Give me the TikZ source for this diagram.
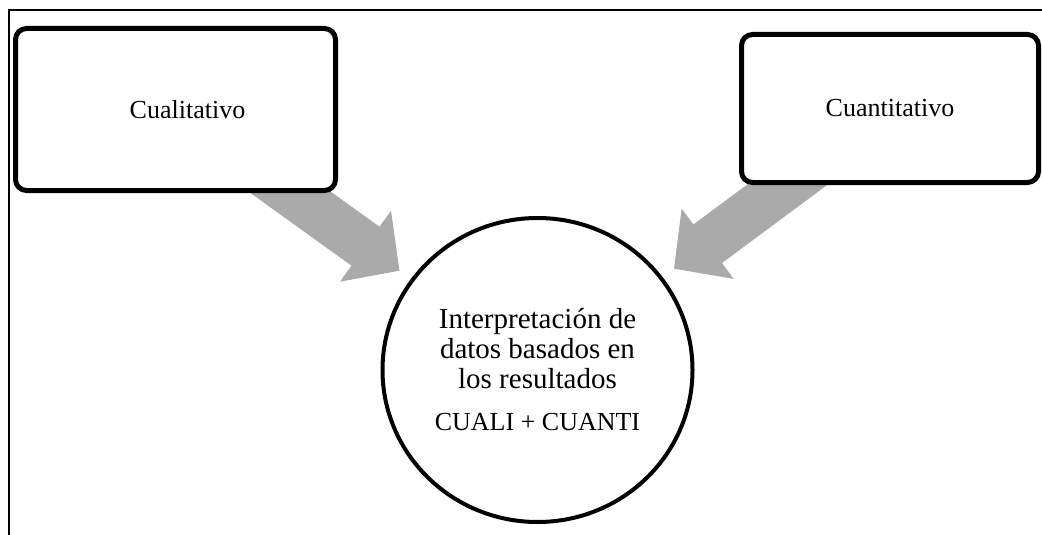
\documentclass[tikz,border=0pt]{standalone}
\usepackage{fontspec}
\setmainfont{Liberation Serif}
\usetikzlibrary{arrows.meta,shapes.geometric,backgrounds}
\definecolor{arrowgray}{RGB}{170,170,170}
\begin{document}
\begin{tikzpicture}[x=1pt,y=-1pt,every node/.style={draw,fill=white,align=center}]
        \tikzset{box/.style = {rounded corners=11pt,line width=5pt,inner sep=0pt,font=\fontsize{26}{30}\selectfont}}
        \tikzset{bigarrow/.style = {-{Triangle[length=42pt,width=85pt]},line width=48pt,draw=arrowgray,shorten >=14pt}}
        \useasboundingbox (0,0) rectangle (1042,535);
        \draw[line width=1.5pt] (9,535) -- (9,10) -- (1042,10);

        \node[box,minimum width=320pt,minimum height=162pt] (cual) at (175.5,109.5) {\hspace*{24pt}Cualitativo};
        \node[box,minimum width=297pt,minimum height=148pt] (cuant) at (890,108.5) {Cuantitativo};
        \node[ellipse,line width=4pt,minimum width=310pt,minimum height=304pt,inner sep=0pt,font=\fontsize{29}{30}\selectfont] (interp) at (537.5,370)
            {Interpretación de\\datos basados en\\los resultados\\[12pt]\fontsize{26}{30}\selectfont CUALI + CUANTI};

        \begin{scope}[on background layer]
        \draw[bigarrow] (cual.center) to (interp);
        \draw[bigarrow] (cuant.center) to (interp);
        \end{scope}
\end{tikzpicture}
\end{document}
